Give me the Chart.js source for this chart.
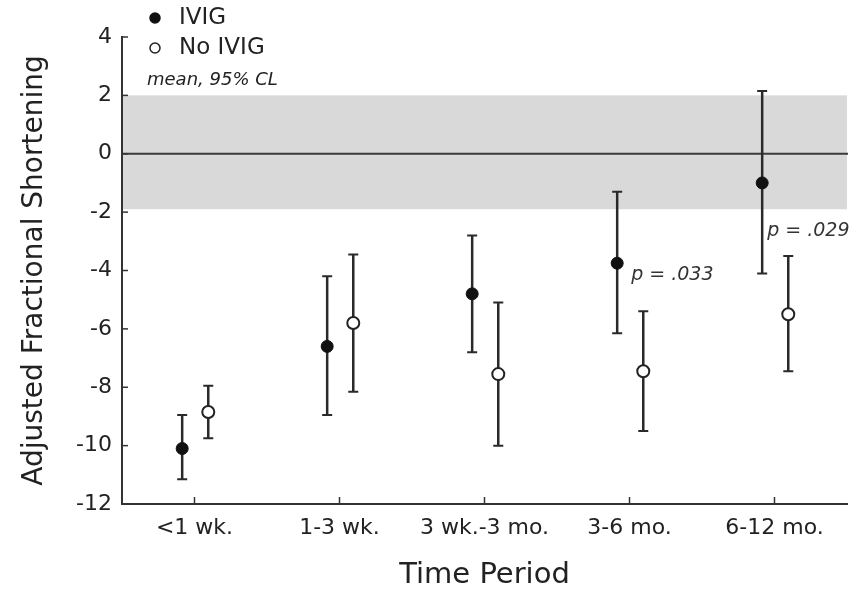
<!DOCTYPE html>
<html>
<head>
<meta charset="utf-8">
<script src="https://cdn.jsdelivr.net/npm/chart.js@4"></script>
<style>
  html, body { margin: 0; padding: 0; background: #fff; }
  #wrap { width: 857px; height: 593px; }
</style>
</head>
<body>
<div id="wrap"><canvas id="fsChart" width="857" height="593"></canvas></div>
<script>
// data
const categories = ["<1 wk.", "1-3 wk.", "3 wk.-3 mo.", "3-6 mo.", "6-12 mo."];
const ivigMean = [-10.1, -6.6, -4.8, -3.75, -1.0];
const ivigLow = [-11.15, -8.95, -6.8, -6.15, -4.1];
const ivigHigh = [-8.95, -4.2, -2.8, -1.3, 2.15];
const noIvigMean = [-8.85, -5.8, -7.55, -7.45, -5.5];
const noIvigLow = [-9.75, -8.15, -10.0, -9.5, -7.45];
const noIvigHigh = [-7.95, -3.45, -5.1, -5.4, -3.5];
const yTicks = [-12, -10, -8, -6, -4, -2, 0, 2, 4];
const normalBand = [-1.9, 2.0];
const pValues = ["", "", "", "p = .033", "p = .029"];

const FONT = "'DejaVu Sans', 'Liberation Sans', Arial, sans-serif";
const INK = "#222";

// small shift so the two groups sit side by side at each time period
const ivigShift = -0.085;
const noIvigShift = 0.095;

const toPoints = (means, lows, highs, shift) =>
  means.map((m, i) => ({ x: i + 0.5 + shift, y: m, lo: lows[i], hi: highs[i] }));

// shaded normal range + zero line, drawn under the points
const bandPlugin = {
  id: "band",
  beforeDatasetsDraw(chart) {
    const { ctx, chartArea, scales } = chart;
    const y = scales.y;
    const top = y.getPixelForValue(normalBand[1]);
    const bot = y.getPixelForValue(normalBand[0]);
    ctx.save();
    ctx.fillStyle = "#d9d9d9";
    ctx.fillRect(chartArea.left + 1, top, chartArea.right - chartArea.left - 1, bot - top);
    const z = y.getPixelForValue(0);
    ctx.strokeStyle = "#3a3a3a";
    ctx.lineWidth = 2;
    ctx.beginPath();
    ctx.moveTo(chartArea.left, z);
    ctx.lineTo(chartArea.right + 1, z);
    ctx.stroke();

    // inward tick marks on both axes
    ctx.strokeStyle = "#333";
    ctx.lineWidth = 1.5;
    yTicks.forEach((t) => {
      const py = y.getPixelForValue(t);
      ctx.beginPath();
      ctx.moveTo(chartArea.left, py);
      ctx.lineTo(chartArea.left + 6, py);
      ctx.stroke();
    });
    categories.forEach((c, i) => {
      const px = scales.x.getPixelForValue(i + 0.5);
      ctx.beginPath();
      ctx.moveTo(px, chartArea.bottom);
      ctx.lineTo(px, chartArea.bottom - 7);
      ctx.stroke();
    });
    ctx.restore();
  },
};

// 95% CL whiskers from lo/hi of each point
const errorBarPlugin = {
  id: "errorBars",
  beforeDatasetsDraw(chart) {
    const { ctx, scales } = chart;
    ctx.save();
    ctx.strokeStyle = "#2a2a2a";
    chart.data.datasets.forEach((ds) => {
      ds.data.forEach((p) => {
        const px = scales.x.getPixelForValue(p.x);
        const pLo = scales.y.getPixelForValue(p.lo);
        const pHi = scales.y.getPixelForValue(p.hi);
        ctx.lineWidth = 2.5;
        ctx.beginPath();
        ctx.moveTo(px, pLo);
        ctx.lineTo(px, pHi);
        ctx.stroke();
        ctx.lineWidth = 2;
        ctx.beginPath();
        ctx.moveTo(px - 5, pLo);
        ctx.lineTo(px + 5, pLo);
        ctx.moveTo(px - 5, pHi);
        ctx.lineTo(px + 5, pHi);
        ctx.stroke();
      });
    });
    ctx.restore();
  },
  afterDatasetsDraw(chart) {
    // p-value notes next to the IVIG means
    const { ctx, scales } = chart;
    ctx.save();
    ctx.fillStyle = "#333";
    ctx.font = "italic 19px " + FONT;
    ctx.textBaseline = "middle";
    pValues.forEach((txt, i) => {
      if (!txt) return;
      const px = scales.x.getPixelForValue(i + 0.5 + ivigShift);
      const py = scales.y.getPixelForValue(ivigMean[i]);
      const dx = i === 3 ? 14 : 5;
      const dy = i === 3 ? 12 : 48;
      ctx.fillText(txt, px + dx, py + dy);
    });
    ctx.restore();
  },
};

// legend in the top-left corner
const legendPlugin = {
  id: "cornerLegend",
  afterDraw(chart) {
    const { ctx } = chart;
    ctx.save();
    ctx.textBaseline = "middle";
    ctx.font = "23px " + FONT;
    chart.data.datasets.forEach((ds, i) => {
      const cy = 18 + i * 30;
      ctx.beginPath();
      ctx.arc(155, cy, ds.pointRadius - 1, 0, Math.PI * 2);
      ctx.fillStyle = ds.pointBackgroundColor;
      ctx.fill();
      ctx.lineWidth = 1.5;
      ctx.strokeStyle = ds.pointBorderColor;
      ctx.stroke();
      ctx.fillStyle = INK;
      ctx.fillText(ds.label, 179, cy);
    });
    ctx.font = "italic 18px " + FONT;
    ctx.fillText("mean, 95% CL", 147, 80);
    ctx.restore();
  },
};

const ctx = document.getElementById("fsChart");
new Chart(ctx, {
  type: "scatter",
  data: {
    datasets: [
      {
        label: "IVIG",
        data: toPoints(ivigMean, ivigLow, ivigHigh, ivigShift),
        pointRadius: 6,
        pointBackgroundColor: "#111",
        pointBorderColor: "#111",
        pointBorderWidth: 1,
      },
      {
        label: "No IVIG",
        data: toPoints(noIvigMean, noIvigLow, noIvigHigh, noIvigShift),
        pointRadius: 6,
        pointBackgroundColor: "#fff",
        pointBorderColor: "#222",
        pointBorderWidth: 2,
      },
    ],
  },
  options: {
    responsive: false,
    animation: false,
    layout: { padding: { top: 37, right: 10, left: 0, bottom: 0 } },
    plugins: {
      legend: { display: false },
      tooltip: { enabled: false },
    },
    scales: {
      x: {
        type: "linear",
        min: 0,
        max: 5,
        afterBuildTicks: (axis) => {
          axis.ticks = categories.map((c, i) => ({ value: i + 0.5 }));
        },
        afterFit: (axis) => { axis.height = 89; },
        ticks: {
          autoSkip: false,
          maxRotation: 0,
          padding: 11,
          color: INK,
          font: { family: FONT, size: 22 },
          callback: (v) => categories[Math.round(v - 0.5)],
        },
        grid: { display: false, drawTicks: false },
        border: { display: true, color: "#333", width: 2 },
        title: {
          display: true,
          text: "Time Period",
          color: INK,
          font: { family: FONT, size: 29 },
          padding: { top: 2, bottom: 0 },
        },
      },
      y: {
        min: -12,
        max: 4,
        afterBuildTicks: (axis) => {
          axis.ticks = yTicks.map((v) => ({ value: v }));
        },
        afterFit: (axis) => { axis.width = 122; },
        ticks: {
          padding: 10,
          color: INK,
          font: { family: FONT, size: 22 },
        },
        grid: { display: false, drawTicks: false },
        border: { display: true, color: "#333", width: 2 },
        title: {
          display: true,
          text: "Adjusted Fractional Shortening",
          color: INK,
          font: { family: FONT, size: 28 },
          padding: { top: 18, bottom: 0 },
        },
      },
    },
  },
  plugins: [bandPlugin, errorBarPlugin, legendPlugin],
});
</script>
</body>
</html>
